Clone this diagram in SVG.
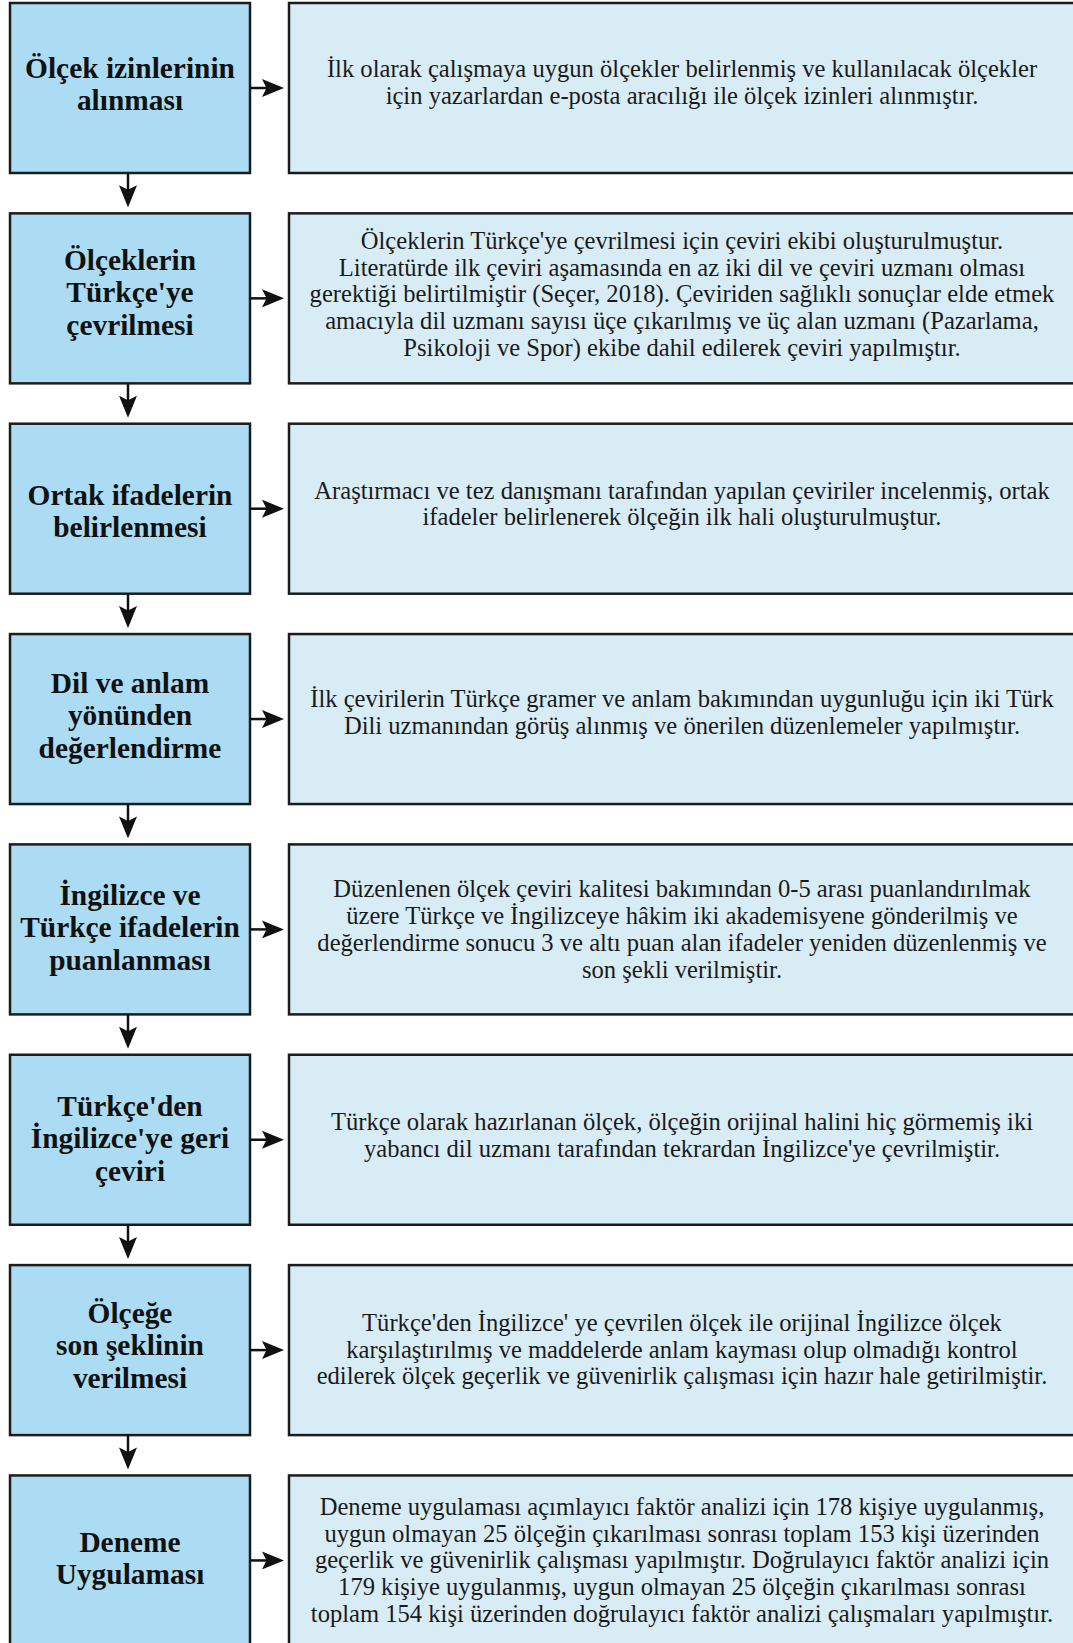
<svg xmlns="http://www.w3.org/2000/svg" width="1073" height="1643" viewBox="0 0 1073 1643">
  <style>
    .step { fill: #acdcf3; stroke: #1c1c1c; stroke-width: 2.5; }
    .info { fill: #d8ecf6; stroke: #1c1c1c; stroke-width: 2.5; }
    .title { font-family: "Liberation Serif", "Times New Roman", serif; font-weight: bold; font-size: 29.4px; fill: #111; text-anchor: middle; }
    .desc { font-family: "Liberation Serif", "Times New Roman", serif; font-size: 24.6px; fill: #1a1a1a; text-anchor: middle; }
    .link { stroke: #111; stroke-width: 2.5; fill: none; marker-end: url(#head); }
  </style>
  <defs>
    <marker id="head" viewBox="0 0 22 18" refX="18" refY="9" markerWidth="22" markerHeight="18" markerUnits="userSpaceOnUse" orient="auto">
      <path d="M0,0 L22,9 L0,18 L4.5,9 Z" fill="#111"/>
    </marker>
  </defs>
  <rect width="1073" height="1643" fill="#ffffff"/>

  <!-- step 1 -->
  <g id="n1" transform="translate(0,3)">
    <rect class="step" x="10" y="0" width="240" height="170"/>
    <text class="title" x="130" y="74.5">Ölçek izinlerinin</text>
    <text class="title" x="130" y="107">alınması</text>
    <rect class="info" x="289" y="0" width="790" height="170"/>
    <text class="desc" x="682" y="74">İlk olarak çalışmaya uygun ölçekler belirlenmiş ve kullanılacak ölçekler</text>
    <text class="desc" x="682" y="100.8">için yazarlardan e-posta aracılığı ile ölçek izinleri alınmıştır.</text>
  </g>

  <!-- step 2 -->
  <g id="n2" transform="translate(0,213.35)">
    <rect class="step" x="10" y="0" width="240" height="170"/>
    <text class="title" x="130" y="56.5">Ölçeklerin</text>
    <text class="title" x="130" y="89">Türkçe'ye</text>
    <text class="title" x="130" y="121.5">çevrilmesi</text>
    <rect class="info" x="289" y="0" width="790" height="170"/>
    <text class="desc" x="682" y="35.4">Ölçeklerin Türkçe'ye çevrilmesi için çeviri ekibi oluşturulmuştur.</text>
    <text class="desc" x="682" y="62.2">Literatürde ilk çeviri aşamasında en az iki dil ve çeviri uzmanı olması</text>
    <text class="desc" x="682" y="89">gerektiği belirtilmiştir (Seçer, 2018). Çeviriden sağlıklı sonuçlar elde etmek</text>
    <text class="desc" x="682" y="115.8">amacıyla dil uzmanı sayısı üçe çıkarılmış ve üç alan uzmanı (Pazarlama,</text>
    <text class="desc" x="682" y="142.6">Psikoloji ve Spor) ekibe dahil edilerek çeviri yapılmıştır.</text>
  </g>

  <!-- step 3 -->
  <g id="n3" transform="translate(0,423.7)">
    <rect class="step" x="10" y="0" width="240" height="170"/>
    <text class="title" x="130" y="81">Ortak ifadelerin</text>
    <text class="title" x="130" y="113.5">belirlenmesi</text>
    <rect class="info" x="289" y="0" width="790" height="170"/>
    <text class="desc" x="682" y="75">Araştırmacı ve tez danışmanı tarafından yapılan çeviriler incelenmiş, ortak</text>
    <text class="desc" x="682" y="101.8">ifadeler belirlenerek ölçeğin ilk hali oluşturulmuştur.</text>
  </g>

  <!-- step 4 -->
  <g id="n4" transform="translate(0,634.05)">
    <rect class="step" x="10" y="0" width="240" height="170"/>
    <text class="title" x="130" y="58.5">Dil ve anlam</text>
    <text class="title" x="130" y="91">yönünden</text>
    <text class="title" x="130" y="123.5">değerlendirme</text>
    <rect class="info" x="289" y="0" width="790" height="170"/>
    <text class="desc" x="682" y="73">İlk çevirilerin Türkçe gramer ve anlam bakımından uygunluğu için iki Türk</text>
    <text class="desc" x="682" y="99.8">Dili uzmanından görüş alınmış ve önerilen düzenlemeler yapılmıştır.</text>
  </g>

  <!-- step 5 -->
  <g id="n5" transform="translate(0,844.4)">
    <rect class="step" x="10" y="0" width="240" height="170"/>
    <text class="title" x="130" y="60.5">İngilizce ve</text>
    <text class="title" x="130" y="93">Türkçe ifadelerin</text>
    <text class="title" x="130" y="125.5">puanlanması</text>
    <rect class="info" x="289" y="0" width="790" height="170"/>
    <text class="desc" x="682" y="53">Düzenlenen ölçek çeviri kalitesi bakımından 0-5 arası puanlandırılmak</text>
    <text class="desc" x="682" y="79.8">üzere Türkçe ve İngilizceye hâkim iki akademisyene gönderilmiş ve</text>
    <text class="desc" x="682" y="106.6">değerlendirme sonucu 3 ve altı puan alan ifadeler yeniden düzenlenmiş ve</text>
    <text class="desc" x="682" y="133.4">son şekli verilmiştir.</text>
  </g>

  <!-- step 6 -->
  <g id="n6" transform="translate(0,1054.75)">
    <rect class="step" x="10" y="0" width="240" height="170"/>
    <text class="title" x="130" y="61">Türkçe'den</text>
    <text class="title" x="130" y="93.5">İngilizce'ye geri</text>
    <text class="title" x="130" y="126">çeviri</text>
    <rect class="info" x="289" y="0" width="790" height="170"/>
    <text class="desc" x="682" y="75">Türkçe olarak hazırlanan ölçek, ölçeğin orijinal halini hiç görmemiş iki</text>
    <text class="desc" x="682" y="101.8">yabancı dil uzmanı tarafından tekrardan İngilizce'ye çevrilmiştir.</text>
  </g>

  <!-- step 7 -->
  <g id="n7" transform="translate(0,1265.1)">
    <rect class="step" x="10" y="0" width="240" height="170"/>
    <text class="title" x="130" y="57.5">Ölçeğe</text>
    <text class="title" x="130" y="90">son şeklinin</text>
    <text class="title" x="130" y="122.5">verilmesi</text>
    <rect class="info" x="289" y="0" width="790" height="170"/>
    <text class="desc" x="682" y="65.7">Türkçe'den İngilizce' ye çevrilen ölçek ile orijinal İngilizce ölçek</text>
    <text class="desc" x="682" y="92.5">karşılaştırılmış ve maddelerde anlam kayması olup olmadığı kontrol</text>
    <text class="desc" x="682" y="119.3">edilerek ölçek geçerlik ve güvenirlik çalışması için hazır hale getirilmiştir.</text>
  </g>

  <!-- step 8 -->
  <g id="n8" transform="translate(0,1475.45)">
    <rect class="step" x="10" y="0" width="240" height="170"/>
    <text class="title" x="130" y="76.5">Deneme</text>
    <text class="title" x="130" y="109">Uygulaması</text>
    <rect class="info" x="289" y="0" width="790" height="170"/>
    <text class="desc" x="682" y="39.4">Deneme uygulaması açımlayıcı faktör analizi için 178 kişiye uygulanmış,</text>
    <text class="desc" x="682" y="66.2">uygun olmayan 25 ölçeğin çıkarılması sonrası toplam 153 kişi üzerinden</text>
    <text class="desc" x="682" y="93">geçerlik ve güvenirlik çalışması yapılmıştır. Doğrulayıcı faktör analizi için</text>
    <text class="desc" x="682" y="119.8">179 kişiye uygulanmış, uygun olmayan 25 ölçeğin çıkarılması sonrası</text>
    <text class="desc" x="682" y="146.6">toplam 154 kişi üzerinden doğrulayıcı faktör analizi çalışmaları yapılmıştır.</text>
  </g>

  <!-- connectors: step -> description, step -> next step -->
  <g id="connectors">
    <line class="link" x1="250" y1="88" x2="280" y2="88"/>
    <line class="link" x1="250" y1="298.35" x2="280" y2="298.35"/>
    <line class="link" x1="250" y1="508.7" x2="280" y2="508.7"/>
    <line class="link" x1="250" y1="719.05" x2="280" y2="719.05"/>
    <line class="link" x1="250" y1="929.4" x2="280" y2="929.4"/>
    <line class="link" x1="250" y1="1139.75" x2="280" y2="1139.75"/>
    <line class="link" x1="250" y1="1350.1" x2="280" y2="1350.1"/>
    <line class="link" x1="250" y1="1560.45" x2="280" y2="1560.45"/>

    <line class="link" x1="128" y1="173" x2="128" y2="203.35"/>
    <line class="link" x1="128" y1="383.35" x2="128" y2="413.7"/>
    <line class="link" x1="128" y1="593.7" x2="128" y2="624.05"/>
    <line class="link" x1="128" y1="804.05" x2="128" y2="834.4"/>
    <line class="link" x1="128" y1="1014.4" x2="128" y2="1044.75"/>
    <line class="link" x1="128" y1="1224.75" x2="128" y2="1255.1"/>
    <line class="link" x1="128" y1="1435.1" x2="128" y2="1465.45"/>
  </g>
</svg>
